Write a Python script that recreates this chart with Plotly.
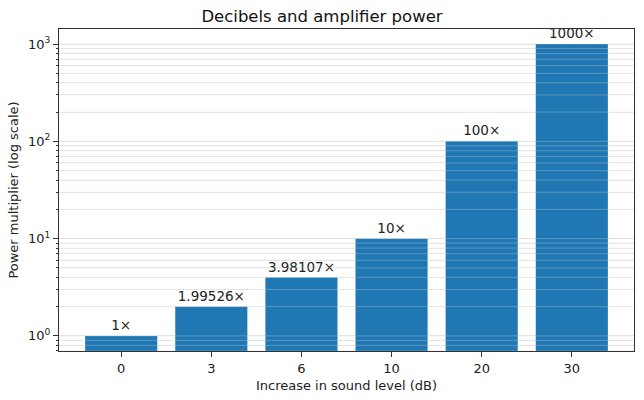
import plotly.graph_objects as go

categories = ["0", "3", "6", "10", "20", "30"]
values = [1, 1.99526, 3.98107, 10, 100, 1000]
labels = ["1×", "1.99526×", "3.98107×", "10×", "100×", "1000×"]
major_ticks = [1, 10, 100, 1000]
major_text = ["10<sup>0</sup>", "10<sup>1</sup>", "10<sup>2</sup>", "10<sup>3</sup>"]

minor_ticks = []
for d in [0.1, 1, 10, 100, 1000]:
    for m in range(2, 10):
        v = d * m
        if 0.69 < v < 1430:
            minor_ticks.append(v)

FONT = "DejaVu Sans"
XR = [-0.69, 5.69]

fig = go.Figure(go.Bar(
    x=list(range(len(categories))),
    y=values,
    width=0.8,
    marker=dict(color="#1f77b4", line=dict(width=0)),
    text=labels,
    textposition="outside",
    textfont=dict(family=FONT, size=13.5, color="#222"),
    cliponaxis=False,
    constraintext="none",
))

# faint grid drawn over the bars (as in the reference)
gx, gy = [], []
for v in major_ticks + minor_ticks:
    gx += [XR[0], XR[1], None]
    gy += [v, v, None]
fig.add_trace(go.Scatter(x=gx, y=gy, mode="lines", hoverinfo="skip",
                         line=dict(color="rgba(210,210,210,0.35)", width=1)))

fig.update_layout(
    width=644, height=400,
    margin=dict(l=59, r=10, t=29, b=49),
    paper_bgcolor="white", plot_bgcolor="white",
    font=dict(family=FONT, size=13, color="#222"),
    title=dict(text="Decibels and amplifier power", x=0.5, xanchor="center",
               y=1 - 16 / 400, yanchor="middle", font=dict(size=16.5, color="#111")),
    showlegend=False,
    bargap=0.2,
)

fig.update_xaxes(
    tickvals=list(range(len(categories))), ticktext=categories,
    range=XR,
    showgrid=False, zeroline=False,
    showline=True, linecolor="#333", linewidth=1, mirror=True,
    ticks="outside", ticklen=5, tickcolor="#333",
    tickfont=dict(size=13, color="#222"),
    title=dict(text="Increase in sound level (dB)", font=dict(size=13, color="#222"), standoff=6),
)

fig.update_yaxes(
    type="log",
    range=[-0.155, 3.155],
    tickmode="array", tickvals=major_ticks, ticktext=major_text,
    showgrid=True, gridcolor="rgba(200,200,200,0.4)", gridwidth=1,
    zeroline=False,
    showline=True, linecolor="#333", linewidth=1, mirror=True,
    ticks="outside", ticklen=5, tickcolor="#333",
    tickfont=dict(size=13, color="#222"),
    layer="above traces",
    minor=dict(tickmode="array", tickvals=minor_ticks, ticks="outside", ticklen=2.5,
               tickcolor="#333", showgrid=True, gridcolor="rgba(200,200,200,0.3)", gridwidth=1),
    title=dict(text="Power multiplier (log scale)", font=dict(size=13, color="#222"), standoff=6),
)

fig.write_html("out.html")
